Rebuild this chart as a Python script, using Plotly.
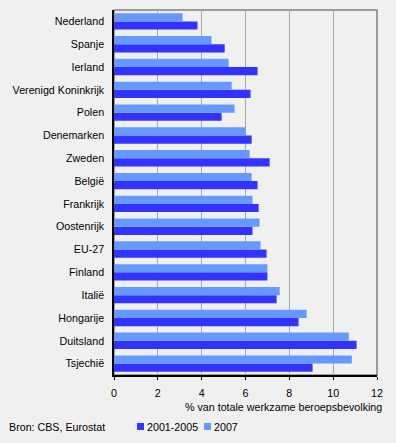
import plotly.graph_objects as go

countries = ["Nederland", "Spanje", "Ierland", "Verenigd Koninkrijk", "Polen",
             "Denemarken", "Zweden", "België", "Frankrijk", "Oostenrijk",
             "EU-27", "Finland", "Italië", "Hongarije", "Duitsland", "Tsjechië"]
v_2001_2005 = [3.81, 5.05, 6.55, 6.23, 4.91, 6.28, 7.10, 6.55, 6.60, 6.32,
               6.96, 7.00, 7.42, 8.42, 11.07, 9.06]
v_2007 = [3.13, 4.45, 5.23, 5.37, 5.50, 6.00, 6.19, 6.28, 6.32, 6.64,
          6.69, 7.00, 7.56, 8.79, 10.71, 10.85]
x_ticks = [0, 2, 4, 6, 8, 10, 12]
series_names = ["2001-2005", "2007"]
series_colors = ["#3333FF", "#6699FF"]

W, H = 396, 443
L, R, T, B = 114, 19, 10, 68
PW, PH = W - L - R, H - T - B

def px(x):
    return (x - L) / PW

def py(y):
    return (H - B - y) / PH

FONT = dict(family="Liberation Sans, Arial, sans-serif", size=10.7, color="#000000")

fig = go.Figure()
for name, vals, col in zip(series_names, [v_2001_2005, v_2007], series_colors):
    fig.add_trace(go.Bar(y=countries, x=vals, orientation="h", name=name,
                         marker=dict(color=col, line=dict(width=0)), showlegend=False))

# manual legend (swatches + labels)
shapes = [dict(type="rect", xref="paper", yref="paper", x0=0, x1=1, y0=0, y1=1,
               line=dict(color="#808080", width=1.5), layer="below")]
annotations = []
leg_items = [(137, 146), (204, 213)]
for (sx, tx), name, col in zip(leg_items, series_names, series_colors):
    shapes.append(dict(type="rect", xref="paper", yref="paper",
                       x0=px(sx), x1=px(sx + 7), y0=py(430), y1=py(423),
                       fillcolor=col, line=dict(width=0)))
    annotations.append(dict(text=name, xref="paper", yref="paper", x=px(tx - 1), y=py(426.5),
                            xanchor="left", yanchor="middle", showarrow=False, font=FONT))

annotations += [
    dict(text="% van totale werkzame beroepsbevolking", xref="paper", yref="paper",
         x=px(383.5), y=py(406.5), xanchor="right", yanchor="middle", showarrow=False, font=FONT),
    dict(text="Bron: CBS, Eurostat", xref="paper", yref="paper",
         x=px(6.5), y=py(427.5), xanchor="left", yanchor="middle", showarrow=False, font=FONT),
]

fig.update_layout(
    width=W, height=H,
    margin=dict(l=L, r=R, t=T, b=B, autoexpand=False),
    paper_bgcolor="#F0F0F0", plot_bgcolor="#F0F0F0",
    font=FONT,
    barmode="group", bargap=0.28, bargroupgap=0,
    showlegend=False,
    xaxis=dict(range=[0, 12], tickvals=x_ticks, ticktext=[str(t) for t in x_ticks],
               showgrid=True, gridcolor="#A8A8A8", gridwidth=1,
               showline=True, linecolor="#000000", linewidth=1.5,
               ticks="outside", ticklen=3, tickcolor="#000000", tickwidth=1,
               ticklabelstandoff=4, zeroline=False, fixedrange=True),
    yaxis=dict(categoryorder="array", categoryarray=list(reversed(countries)),
               showgrid=False, showline=True, linecolor="#000000", linewidth=1.5,
               ticks="", ticklabelstandoff=6, zeroline=False, fixedrange=True),
    shapes=shapes,
    annotations=annotations,
)

fig.write_html("out.html", config={"displayModeBar": False},
               post_script="document.body.style.margin='0';document.body.style.background='#F0F0F0';")
